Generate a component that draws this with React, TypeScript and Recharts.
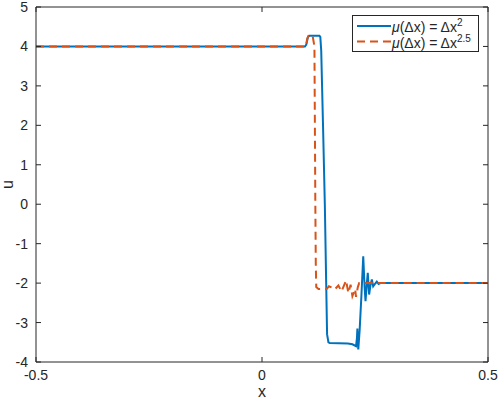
import { Label, Line, LineChart, ReferenceLine, XAxis, YAxis } from "recharts";

// mu(dx) = dx^2
const xBlue = [
  -0.5, 0.095, 0.098, 0.102, 0.105, 0.127, 0.129, 0.131, 0.135, 0.139, 0.142,
  0.144, 0.147, 0.15, 0.19, 0.2, 0.208, 0.21, 0.211, 0.212, 0.213, 0.216, 0.22,
  0.224, 0.227, 0.229, 0.232, 0.234, 0.237, 0.24, 0.243, 0.246, 0.25, 0.254,
  0.258, 0.262, 0.5,
];
const uBlue = [
  4, 4, 4.05, 4.25, 4.27, 4.27, 4.24, 3.9, 2, 0, -2, -3.3, -3.5, -3.52, -3.53,
  -3.55, -3.6, -3.4, -3.15, -3.5, -3.68, -3.2, -2.3, -1.32, -2.1, -2.46, -2.0,
  -1.74, -2.29, -2.05, -1.91, -2.08, -2.02, -1.96, -2.02, -2.0, -2.0,
];

// mu(dx) = dx^2.5
const xRed = [
  -0.5, 0.097, 0.1, 0.103, 0.112, 0.116, 0.117, 0.118, 0.119, 0.12, 0.125,
  0.143, 0.148, 0.154, 0.161, 0.169, 0.176, 0.186, 0.191, 0.196, 0.2, 0.206,
  0.208, 0.212, 0.215, 0.5,
];
const uRed = [
  4, 4, 4.2, 4.27, 4.27, 4.0, 2, 0, -1.5, -2.1, -2.15, -2.15, -2.08, -2.11,
  -2.16, -2.06, -2.21, -1.93, -2.25, -2.04, -2.33, -2.15, -2.35, -2.1, -2.0,
  -2.0,
];

const xTicks = [-0.5, 0, 0.5];
const uTicks = [-4, -3, -2, -1, 0, 1, 2, 3, 4, 5];

const BLUE = "#0072BD";
const RED = "#D95319";
const AXIS = "#262626";
const FONT = "'Liberation Sans', Arial, Helvetica, sans-serif";

const blueData = xBlue.map((x, i) => ({ x, u: uBlue[i] }));
const redData = xRed.map((x, i) => ({ x, u: uRed[i] }));

const series = [
  { key: "blue", color: BLUE, dash: undefined as string | undefined, sup: "2" },
  { key: "red", color: RED, dash: "8 5", sup: "2.5" },
];

function LegendBox() {
  return (
    <div
      style={{
        position: "absolute",
        left: 352,
        top: 15,
        width: 127,
        height: 37,
        border: `1px solid ${AXIS}`,
        background: "#fff",
        boxSizing: "border-box",
      }}
    >
      <svg width={125} height={35} style={{ display: "block" }}>
        {series.map((s, i) => {
          const cy = 10 + i * 15.5;
          return (
            <g key={s.key}>
              <line
                x1={4}
                x2={38}
                y1={cy}
                y2={cy}
                stroke={s.color}
                strokeWidth={2}
                strokeDasharray={s.dash}
              />
              <text
                x={39}
                y={cy + 6}
                fontSize={14}
                fontFamily={FONT}
                fill={AXIS}
              >
                <tspan fontStyle="italic">μ</tspan>(Δx) = Δx
                <tspan dy={-6} fontSize={10}>
                  {s.sup}
                </tspan>
              </text>
            </g>
          );
        })}
      </svg>
    </div>
  );
}

export default function App() {
  return (
    <div style={{ position: "absolute", left: 0, top: 0, width: 498, height: 400 }}>
      <LineChart
        width={498}
        height={400}
        margin={{ top: 0, right: 0, bottom: 0, left: 0 }}
        style={{ fontFamily: FONT }}
      >
        <XAxis
          dataKey="x"
          type="number"
          domain={[-0.5, 0.5]}
          ticks={xTicks}
          interval={0}
          allowDataOverflow
          height={38}
          tickSize={-5}
          tickMargin={13}
          stroke={AXIS}
          tick={{ fill: AXIS, fontSize: 14 }}
          tickFormatter={(v) => String(v)}
        >
          <Label
            value="x"
            position="insideBottom"
            offset={3}
            fill={AXIS}
            fontSize={16}
          />
        </XAxis>
        <XAxis
          xAxisId="top"
          dataKey="x"
          type="number"
          orientation="top"
          domain={[-0.5, 0.5]}
          ticks={xTicks}
          interval={0}
          height={7}
          tickSize={-5}
          tickMargin={0}
          axisLine={false}
          tickLine={{ stroke: AXIS }}
          tick={{ fontSize: 1, fill: "none" }}
        />
        <YAxis
          type="number"
          domain={[-4, 5]}
          ticks={uTicks}
          interval={0}
          allowDataOverflow
          width={36}
          tickSize={-5}
          tickMargin={13}
          stroke={AXIS}
          tick={{ fill: AXIS, fontSize: 14 }}
        >
          <Label
            content={(props: any) => {
              const vb = props.viewBox;
              const cx = vb.x + 13;
              const cy = vb.y + vb.height / 2;
              return (
                <text
                  x={cx}
                  y={cy}
                  transform={`rotate(-90 ${cx} ${cy})`}
                  textAnchor="middle"
                  fontSize={16}
                  fill={AXIS}
                  fontFamily={FONT}
                >
                  u
                </text>
              );
            }}
          />
        </YAxis>
        <YAxis
          yAxisId="right"
          orientation="right"
          type="number"
          domain={[-4, 5]}
          ticks={uTicks}
          interval={0}
          width={10}
          tickSize={-5}
          tickMargin={0}
          axisLine={false}
          tickLine={{ stroke: AXIS }}
          tick={{ fontSize: 1, fill: "none" }}
        />
        {/* top and right sides of the axes box */}
        <ReferenceLine y={5} stroke={AXIS} ifOverflow="visible" />
        <ReferenceLine x={0.5} stroke={AXIS} ifOverflow="visible" />
        <Line
          data={blueData}
          dataKey="u"
          type="linear"
          stroke={BLUE}
          strokeWidth={2}
          dot={false}
          isAnimationActive={false}
        />
        <Line
          data={redData}
          dataKey="u"
          xAxisId="top"
          yAxisId="right"
          type="linear"
          stroke={RED}
          strokeWidth={2}
          strokeDasharray="8 5"
          dot={false}
          isAnimationActive={false}
        />
      </LineChart>
      <LegendBox />
    </div>
  );
}
